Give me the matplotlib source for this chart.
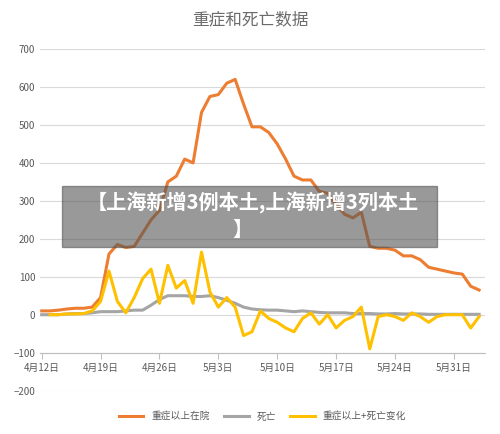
import matplotlib
matplotlib.use("Agg")
import matplotlib.pyplot as plt
import numpy as np
import datetime as dt
from matplotlib.patches import Rectangle

plt.rcParams['font.family'] = ['Noto Sans CJK SC', 'DejaVu Sans']

start = dt.date(2022, 4, 12)
n = 53
dates = [start + dt.timedelta(days=i) for i in range(n)]
tick_labels = ["4月12日", "4月19日", "4月26日", "5月3日", "5月10日", "5月17日", "5月24日", "5月31日"]

severe = [10, 10, 12, 15, 17, 17, 20, 45, 160, 185, 177, 180, 215, 250, 275, 350, 365, 410, 400,
          533, 575, 580, 610, 620, 555, 495, 495, 480, 450, 410, 365, 355, 355, 325, 320, 290, 265,
          255, 270, 180, 175, 175, 170, 155, 155, 145, 125, 120, 115, 110, 107, 75, 65]
deaths = [0, 0, 0, 2, 3, 3, 5, 8, 8, 8, 10, 12, 12, 25, 40, 50, 50, 50, 48, 48, 50, 45, 38, 30,
          20, 15, 13, 12, 12, 10, 8, 10, 8, 6, 5, 5, 5, 3, 3, 3, 2, 2, 3, 2, 2, 2, 1, 1, 1, 1, 1, 1, 1]
change = [np.nan, 0, 0, 2, 2, 3, 10, 35, 115, 35, 5, 45, 95, 120, 30, 130, 70, 90, 30,
          165, 60, 20, 45, 20, -55, -45, 10, -10, -20, -35, -45, -10, 5, -25, 0, -35, -15, -5, 20,
          -90, -5, 0, -5, -15, 5, -5, -20, -5, 0, 0, 0, -35, -5]

fig = plt.figure(figsize=(5.0, 4.34), dpi=100)
ax = fig.add_axes([0.08, 0.10, 0.89, 0.787])
x = np.arange(n)
ax.plot(x, severe, color='#ED7D31', lw=2.2, label='重症以上在院', solid_joinstyle='round')
ax.plot(x, deaths, color='#A5A5A5', lw=2.2, label='死亡')
ax.plot(x, change, color='#FFC000', lw=2.2, label='重症以上+死亡变化')

ax.set_ylim(-200, 700)
ax.set_xlim(-0.2, n - 0.3)
ax.set_yticks(range(-200, 701, 100))
ax.yaxis.grid(True, color='#D9D9D9', lw=0.8)
ax.set_axisbelow(True)
for s in ['top', 'right', 'left']:
    ax.spines[s].set_visible(False)
ax.spines['bottom'].set_position(('data', -100))
ax.spines['bottom'].set_color('#BFBFBF')
ax.set_xticks(np.arange(0, n, 7))
ax.set_xticklabels(tick_labels)
ax.tick_params(axis='x', colors='#595959', labelsize=7, length=4, color='#BFBFBF')
ax.tick_params(axis='y', colors='#595959', labelsize=7, length=0)

fig.text(0.5, 0.955, '重症和死亡数据', ha='center', va='center', fontsize=12, color='#6b6b6b')
ax.legend(loc='upper center', bbox_to_anchor=(0.5, -0.035), ncol=3, frameon=False,
          fontsize=7, handlelength=2.5, columnspacing=1.5, labelcolor='#595959')

fig.patches.append(Rectangle((62 / 500, 1 - 247 / 434), 375 / 500, 61 / 434,
                             transform=fig.transFigure, color='#555555', alpha=0.6, zorder=10))
fig.text(0.505, 1 - 203 / 434, '【上海新增3例本土,上海新增3列本土', ha='center', va='center',
         fontsize=14.5, color='white', fontweight='bold', zorder=11)
fig.text(0.485, 1 - 229 / 434, '】', ha='center', va='center',
         fontsize=14.5, color='white', fontweight='bold', zorder=11)

fig.savefig('out.png', dpi=100)
